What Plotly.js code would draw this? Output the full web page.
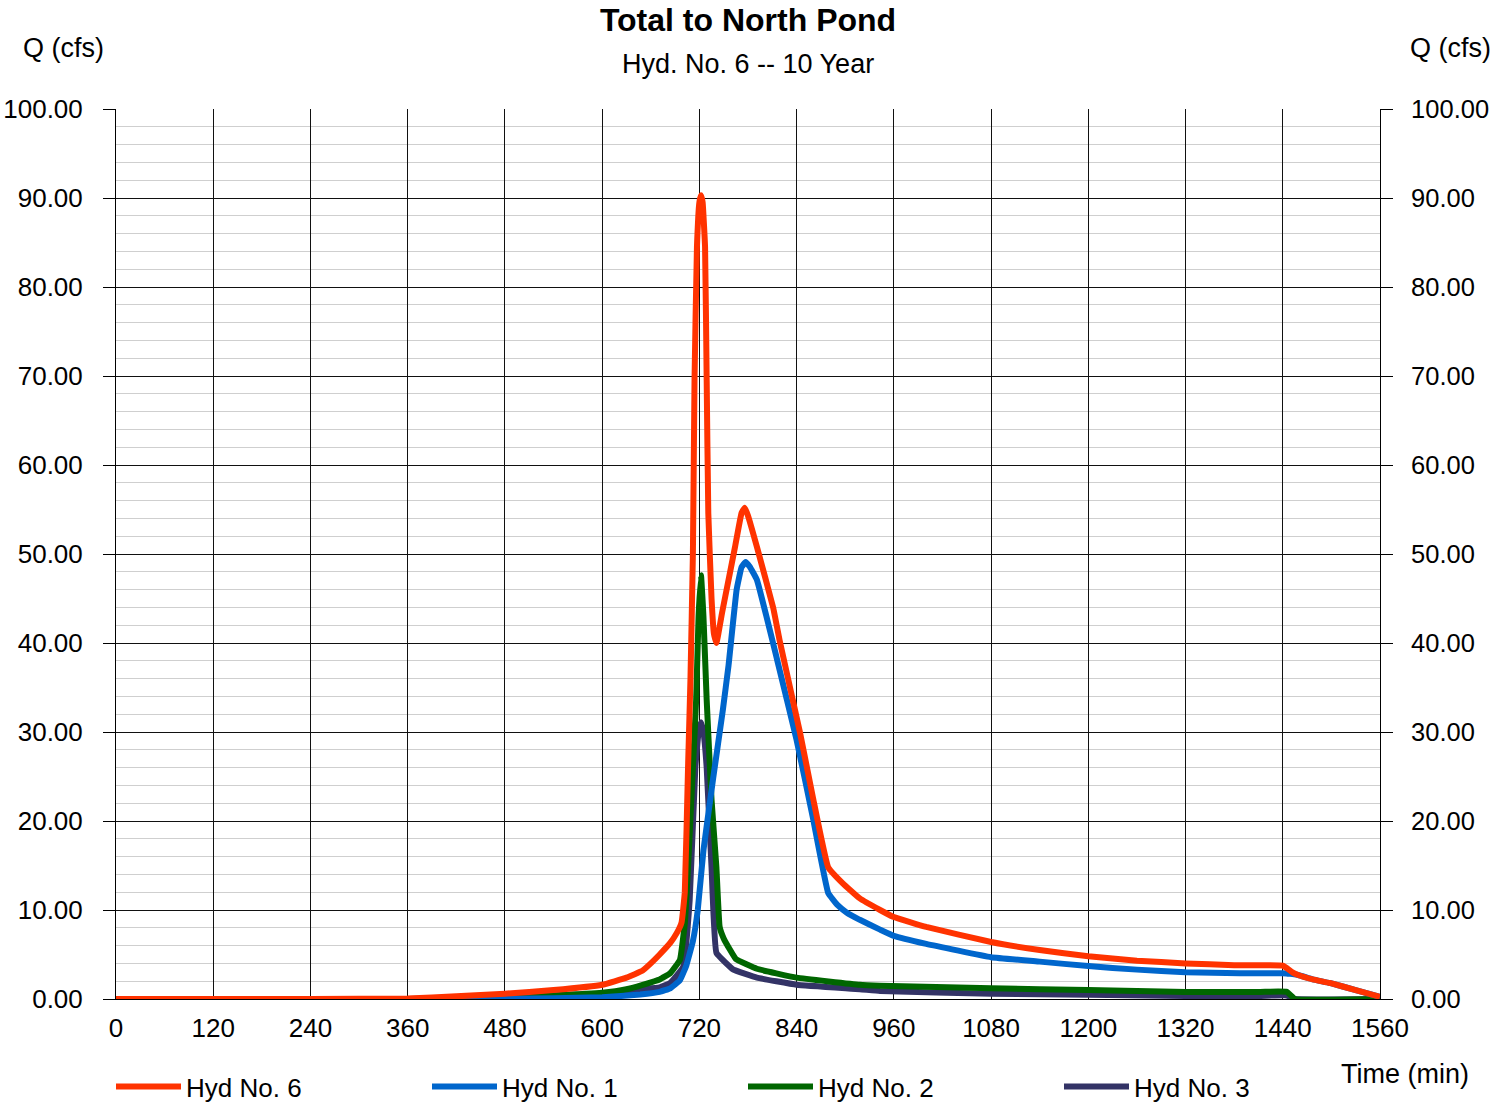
<!DOCTYPE html>
<html>
<head>
<meta charset="utf-8">
<script src="https://cdn.plot.ly/plotly-3.0.1.min.js"></script>
<style>html,body{margin:0;padding:0;background:#fff;}#chart{width:1491px;height:1110px;}</style>
</head>
<body>
<div id="chart"></div>
<script>
// ---- Data (time in min, flow in cfs) ----
const hyd6Time = [0, 120, 240, 360, 420, 480, 540, 600, 630, 650, 660, 671, 684, 692, 698, 702, 706, 709, 712, 714, 717, 720, 722, 724, 727, 729, 731, 735, 738, 741, 748, 756, 764, 772, 776, 780, 791, 811, 819, 844, 860, 879, 897, 918, 943, 959, 1000, 1080, 1140, 1200, 1260, 1320, 1380, 1440, 1446, 1452, 1459, 1477, 1498, 1530, 1560];
const hyd6Flow = [0, 0, 0, 0.05, 0.3, 0.6, 1.0, 1.6, 2.4, 3.2, 4.0, 5.0, 6.3, 7.4, 8.6, 12, 26, 36, 50, 69.5, 84.5, 89.5, 90.3, 89.5, 84.5, 69.5, 54.6, 45, 41, 40.0, 43.4, 47.1, 50.8, 54.6, 55.2, 54.3, 50.8, 44.0, 40.3, 30.0, 22.7, 14.8, 13.0, 11.3, 10.0, 9.25, 8.1, 6.4, 5.5, 4.8, 4.3, 4.0, 3.8, 3.75, 3.4, 3.0, 2.7, 2.2, 1.8, 1.0, 0.25];

const hyd1Time = [0, 360, 480, 540, 600, 647, 671, 684, 696, 704, 712, 718, 725, 737, 749, 756, 766, 772, 777, 782, 791, 816, 840, 860, 879, 890, 902, 918, 943, 960, 1000, 1080, 1140, 1200, 1260, 1320, 1387, 1440, 1446, 1452, 1459, 1477, 1498, 1530, 1560];
const hyd1Flow = [0, 0, 0.02, 0.08, 0.2, 0.5, 0.8, 1.2, 2.1, 3.8, 6.5, 10, 16.7, 24.8, 32.5, 37.5, 46, 48.5, 49.1, 48.6, 47.1, 38.1, 29.1, 20.4, 11.9, 10.6, 9.7, 8.9, 7.8, 7.1, 6.2, 4.7, 4.2, 3.7, 3.3, 3.0, 2.9, 2.9, 2.85, 2.8, 2.7, 2.2, 1.8, 1.0, 0.25];

const hyd2Time = [0, 360, 420, 480, 540, 600, 630, 650, 671, 684, 696, 702, 706, 712, 716, 719, 722, 725, 729, 735, 741, 745, 750, 758, 765, 791, 840, 918, 943, 1080, 1200, 1320, 1412, 1445, 1455, 1560];
const hyd2Flow = [0, 0, 0.05, 0.2, 0.4, 0.7, 1.1, 1.6, 2.2, 2.9, 4.4, 8.5, 14.8, 26, 33.6, 43, 47.6, 43, 33.6, 22.4, 14.8, 8.1, 6.8, 5.5, 4.5, 3.4, 2.4, 1.6, 1.5, 1.2, 1.0, 0.8, 0.8, 0.8, 0, 0];

const hyd3Time = [0, 360, 420, 480, 540, 600, 647, 671, 684, 700, 708, 715, 719, 722, 725, 729, 735, 741, 758, 762, 791, 840, 918, 943, 1080, 1320, 1412, 1445, 1455, 1560];
const hyd3Flow = [0, 0, 0.05, 0.25, 0.4, 0.6, 1.1, 1.3, 1.8, 3.6, 11.1, 26, 30, 31.1, 30, 26, 14.8, 5.2, 3.6, 3.3, 2.4, 1.6, 1.1, 0.9, 0.6, 0.35, 0.35, 0.4, 0, 0];

const seriesNames = ["Hyd No. 6", "Hyd No. 1", "Hyd No. 2", "Hyd No. 3"];
const xTicks = [0, 120, 240, 360, 480, 600, 720, 840, 960, 1080, 1200, 1320, 1440, 1560];
const yTicks = [0, 10, 20, 30, 40, 50, 60, 70, 80, 90, 100];

const FONT = "Liberation Sans, Arial, Helvetica, sans-serif";
const LW = 6;
const LINE_SHAPE = {shape: "spline", smoothing: 0.3};

const traces = [
  {x: hyd3Time, y: hyd3Flow, name: seriesNames[3], legendrank: 4, mode: "lines", line: Object.assign({color: "#333366", width: LW}, LINE_SHAPE), xaxis: "x", yaxis: "y", hoverinfo: "skip"},
  {x: hyd2Time, y: hyd2Flow, name: seriesNames[2], legendrank: 3, mode: "lines", line: Object.assign({color: "#006600", width: LW}, LINE_SHAPE), xaxis: "x", yaxis: "y", hoverinfo: "skip"},
  {x: hyd1Time, y: hyd1Flow, name: seriesNames[1], legendrank: 2, mode: "lines", line: Object.assign({color: "#0066CC", width: LW}, LINE_SHAPE), xaxis: "x", yaxis: "y", hoverinfo: "skip"},
  {x: hyd6Time, y: hyd6Flow, name: seriesNames[0], legendrank: 1, mode: "lines", line: Object.assign({color: "#FF3300", width: LW}, LINE_SHAPE), xaxis: "x", yaxis: "y2", hoverinfo: "skip"}
];

const tickText = yTicks.map(v => v.toFixed(2));

const layout = {
  width: 1491, height: 1110,
  margin: {l: 116, r: 111, t: 109, b: 111, pad: 0, autoexpand: false},
  paper_bgcolor: "#ffffff", plot_bgcolor: "#ffffff",
  font: {family: FONT, size: 26, color: "#000"},
  showlegend: true,
  title: {text: "<b>Total to North Pond</b>", x: 0.5, xref: "paper", xanchor: "center", y: 1 - 20/1110, yref: "container", yanchor: "middle", font: {family: FONT, size: 32, color: "#000"}},
  xaxis: {
    range: [0, 1560], tickvals: xTicks, ticktext: xTicks.map(String),
    showgrid: true, gridcolor: "#111", gridwidth: 1,
    showline: true, linecolor: "#000", linewidth: 1,
    zeroline: false, ticks: "", ticklabelstandoff: 6,
    tickfont: {family: FONT, size: 26, color: "#000"}
  },
  yaxis: {
    range: [0, 100], tickvals: yTicks, ticktext: tickText,
    showgrid: true, gridcolor: "#111", gridwidth: 1,
    minor: {dtick: 2, showgrid: true, gridcolor: "#cfcfcf", gridwidth: 1, ticks: ""},
    showline: true, linecolor: "#000", linewidth: 1, mirror: false,
    zeroline: false, ticks: "outside", ticklen: 12, tickcolor: "#000", tickwidth: 1,
    ticklabelstandoff: 15,
    tickfont: {family: FONT, size: 26, color: "#000"}
  },
  yaxis2: {
    range: [0, 100], tickvals: yTicks, ticktext: tickText,
    overlaying: "y", side: "right", showgrid: false,
    showline: true, linecolor: "#000", linewidth: 1,
    zeroline: false, ticks: "outside", ticklen: 12, tickcolor: "#000", tickwidth: 1,
    ticklabelstandoff: 13,
    tickfont: {family: FONT, size: 25.5, color: "#000"}
  },
  legend: {
    orientation: "h", x: 111/1491, xanchor: "left", y: 0, yanchor: "bottom",
    xref: "container", yref: "container",
    font: {family: FONT, size: 26, color: "#000"},
    itemwidth: 65, entrywidth: 236, entrywidthmode: "pixels",
    bgcolor: "rgba(0,0,0,0)", borderwidth: 0, traceorder: "normal",
    itemclick: false, itemdoubleclick: false
  },
  annotations: [
    {text: "Hyd. No. 6 -- 10 Year", xref: "paper", yref: "paper", x: 0.5, y: (999-64)/890, xanchor: "center", yanchor: "middle", showarrow: false, font: {family: FONT, size: 27, color: "#000"}},
    {text: "Q (cfs)", xref: "paper", yref: "paper", x: (63-116)/1264, y: (999-48)/890, xanchor: "center", yanchor: "middle", showarrow: false, font: {family: FONT, size: 27, color: "#000"}},
    {text: "Q (cfs)", xref: "paper", yref: "paper", x: (1450-116)/1264, y: (999-48)/890, xanchor: "center", yanchor: "middle", showarrow: false, font: {family: FONT, size: 27, color: "#000"}},
    {text: "Time (min)", xref: "paper", yref: "paper", x: (1405-116)/1264, y: (999-1074)/890, xanchor: "center", yanchor: "middle", showarrow: false, font: {family: FONT, size: 27, color: "#000"}}
  ]
};

Plotly.newPlot("chart", traces, layout, {staticPlot: true, displayModeBar: false});
</script>
</body>
</html>
